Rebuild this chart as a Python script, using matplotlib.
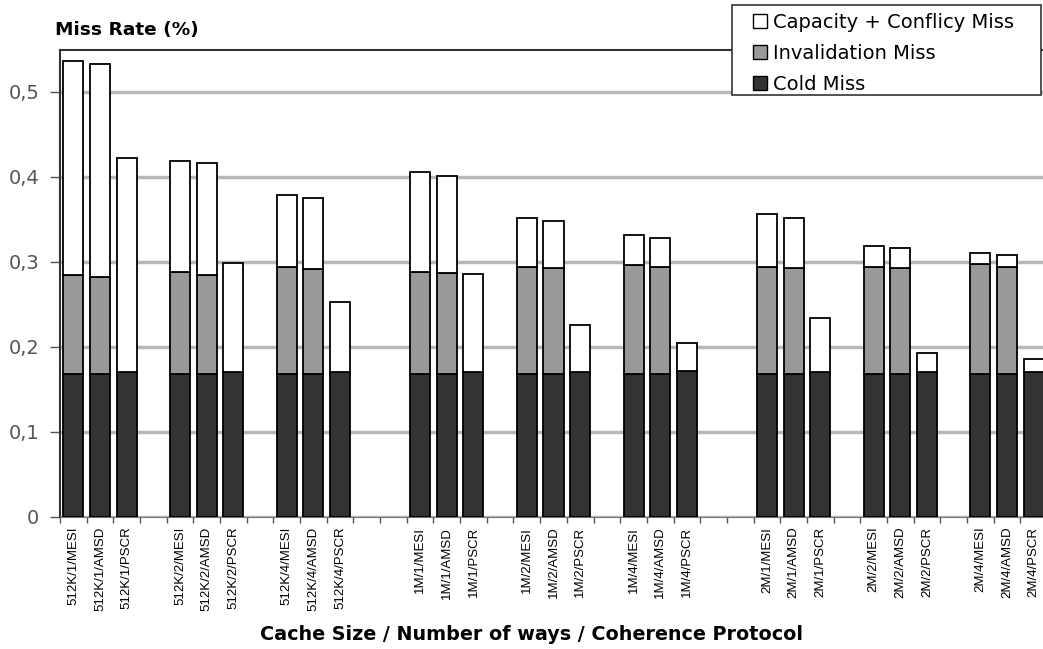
import numpy as np
import matplotlib.pyplot as plt
from matplotlib.patches import Patch, Rectangle
from matplotlib.ticker import FuncFormatter

plt.rcParams['font.family'] = ['DejaVu Sans']

# configurations: cache size / ways / protocol
sizes = ['512K', '1M', '2M']
ways = ['1', '2', '4']
protocols = ['MESI', 'AMSD', 'PSCR']

# miss rate components (%), in order size -> ways -> protocol
cold_miss = [0.168, 0.168, 0.170, 0.168, 0.168, 0.170, 0.168, 0.168, 0.170,
             0.168, 0.168, 0.171, 0.168, 0.168, 0.171, 0.168, 0.168, 0.172,
             0.168, 0.168, 0.171, 0.168, 0.168, 0.170, 0.168, 0.168, 0.170]
inval_miss = [0.117, 0.114, 0.0, 0.120, 0.117, 0.0, 0.126, 0.124, 0.0,
              0.120, 0.119, 0.0, 0.126, 0.125, 0.0, 0.128, 0.126, 0.0,
              0.126, 0.125, 0.0, 0.126, 0.125, 0.0, 0.129, 0.126, 0.0]
cap_miss = [0.251, 0.250, 0.252, 0.131, 0.131, 0.129, 0.085, 0.083, 0.083,
            0.118, 0.114, 0.115, 0.058, 0.055, 0.055, 0.035, 0.034, 0.033,
            0.062, 0.059, 0.063, 0.024, 0.023, 0.023, 0.013, 0.014, 0.016]

labels = []
pos = []
for s, size in enumerate(sizes):
    for w, way in enumerate(ways):
        for p, proto in enumerate(protocols):
            labels.append(f'{size}/{way}/{proto}')
            pos.append(13 * s + 4 * w + p)
pos = np.array(pos)
cold_miss = np.array(cold_miss)
inval_miss = np.array(inval_miss)
cap_miss = np.array(cap_miss)

fig = plt.figure(figsize=(10.43, 6.49), dpi=100)
W, H = 1043, 649
ax = fig.add_axes([60 / W, (H - 517) / H, (1047 - 60) / W, (517 - 50) / H])

bw = 0.75
edge = dict(edgecolor='black', linewidth=1.3)
ax.bar(pos, cold_miss, bw, color='#333333', zorder=3, **edge)
ax.bar(pos, inval_miss, bw, bottom=cold_miss, color='#999999', zorder=3, **edge)
ax.bar(pos, cap_miss, bw, bottom=cold_miss + inval_miss, color='white', zorder=3, **edge)

ax.set_xlim(-0.5, 36.5)
ax.set_ylim(0, 0.549)
ax.set_yticks(np.arange(0, 0.51, 0.1))
ax.yaxis.set_major_formatter(FuncFormatter(lambda v, _: '0' if v == 0 else f'{v:.1f}'.replace('.', ',')))
ax.yaxis.grid(True, color='#b8b8b8', linewidth=2.5, zorder=0)
ax.set_axisbelow(True)

ax.set_xticks(pos)
ax.set_xticklabels(labels, rotation=90, fontsize=9.5, va='top', family='Liberation Sans')
ax.set_xticks(np.arange(-0.5, 37, 1), minor=True)
ax.tick_params(axis='x', which='major', length=0, pad=7)
ax.tick_params(axis='x', which='minor', length=4, color='#555555', width=1)
ax.tick_params(axis='y', length=7, color='#555555', width=1, labelsize=14,
               labelcolor='#555555', pad=8)

for sp in ['left', 'top', 'right']:
    ax.spines[sp].set_color('#333333')
    ax.spines[sp].set_linewidth(1.5)
ax.spines['bottom'].set_color('#777777')

fig.text(55 / W, 1 - 30 / H, 'Miss Rate (%)', fontsize=13.3, fontweight='bold', va='center')
fig.text(532 / W, 1 - 635 / H, 'Cache Size / Number of ways / Coherence Protocol',
         fontsize=13.8, fontweight='bold', ha='center', va='center')

# legend box drawn as a fixed rectangle, entries without frame
fig.patches.append(Rectangle((732 / W, 1 - 95 / H), 309 / W, 90 / H, transform=fig.transFigure,
                             facecolor='white', edgecolor='#333333', linewidth=1.2, zorder=5))
handles = [Patch(facecolor='white', edgecolor='black', label='Capacity + Conflicy Miss'),
           Patch(facecolor='#999999', edgecolor='black', label='Invalidation Miss'),
           Patch(facecolor='#333333', edgecolor='black', label='Cold Miss')]
leg = fig.legend(handles=handles, loc='upper left', bbox_to_anchor=(753 / W, 1 - 13 / H),
                 fontsize=14, frameon=False, handlelength=0.7, handleheight=0.7,
                 handletextpad=0.35, borderpad=0, labelspacing=0.62, borderaxespad=0)
leg.set_zorder(6)

fig.savefig('out.png', dpi=100)
